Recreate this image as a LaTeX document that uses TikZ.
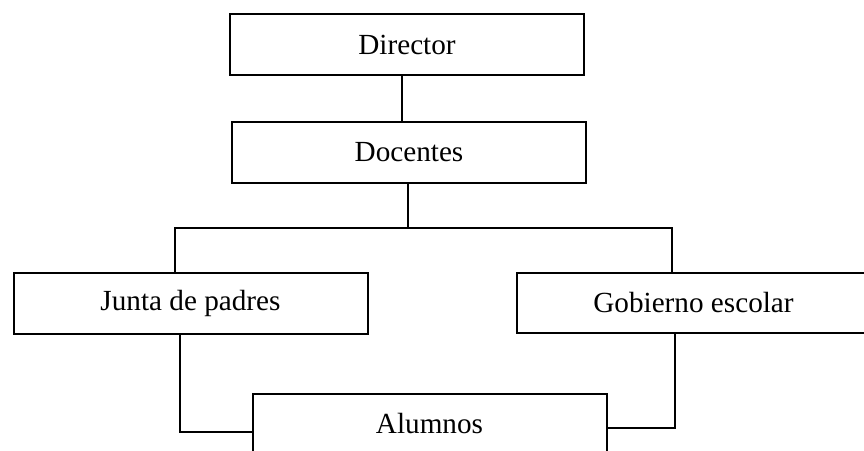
\documentclass[tikz,border=0pt]{standalone}
\usepackage{fontspec}
\setmainfont{Liberation Serif}

\begin{document}
\begin{tikzpicture}[
    x=0.75pt, y=-0.75pt,
    box/.style={draw, line width=1.5pt, minimum width=265.5pt, minimum height=45.5pt,
        inner sep=0pt, font=\fontsize{21.9}{26}\selectfont},
    link/.style={line width=0.8pt}
]

% page frame
\clip (0,0) rectangle (864,450);

% =========================
% BOXES
% =========================
\node[box] (director) at (407,44.5) {Director};
\node[box] (docentes) at (409,152.5) {Docentes};
\node[box] (junta)    at (190.5,303.5) {Junta de padres};
\node[box] (gobierno) at (693.5,303) {Gobierno escolar};
\node[box] (alumnos)  at (429.5,424) {Alumnos};

% bend points
\coordinate (axis)  at (402,0);
\coordinate (fork)  at (408,228);
\coordinate (forkL) at (175,228);
\coordinate (forkR) at (672,228);
\coordinate (bendL) at (180,432);
\coordinate (bendR) at (675,428);

% =========================
% CONNECTORS
% =========================
\draw[link] (director.south -| axis) -- (docentes.north -| axis);
\draw[link] (docentes.south -| fork) -- (fork);
\draw[link] (junta.north -| forkL) -- (forkL) -- (forkR) -- (gobierno.north -| forkR);

\draw[link] (junta.south -| bendL) -- (bendL) -- (alumnos.west |- bendL);
\draw[link] (gobierno.south -| bendR) -- (bendR) -- (alumnos.east |- bendR);
\end{tikzpicture}
\end{document}
